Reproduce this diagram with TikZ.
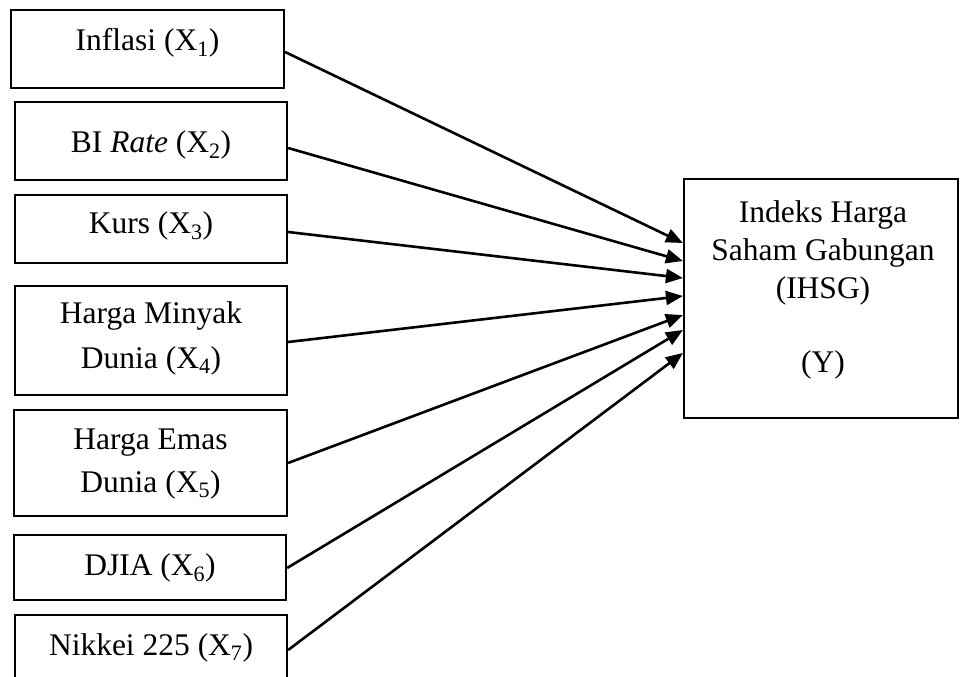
\documentclass[tikz,border=0pt]{standalone}
\usepackage{fontspec}
\setmainfont{Liberation Serif}
\usetikzlibrary{arrows.meta}
\begin{document}
\begin{tikzpicture}[x=1pt,y=-1pt,
  boxnode/.style={draw=black, line width=2.2pt, rectangle, inner sep=0pt, fill=none},
  lbl/.style={anchor=base, inner sep=0pt, font=\fontsize{31.5}{38}\selectfont},
  conn/.style={line width=2.6pt, -{Triangle[length=17pt,width=14pt]}}
]
\clip (0,0) rectangle (961,677);
\fill[white] (0,0) rectangle (961,677);
% left boxes
\node[boxnode, minimum width=273pt, minimum height=78pt] (b1) at (147.5,49) {};
\node[boxnode, minimum width=272pt, minimum height=78pt] (b2) at (151,141) {};
\node[boxnode, minimum width=272pt, minimum height=68pt] (b3) at (151,229) {};
\node[boxnode, minimum width=272pt, minimum height=109pt] (b4) at (151,340.5) {};
\node[boxnode, minimum width=273pt, minimum height=106pt] (b5) at (150.5,463) {};
\node[boxnode, minimum width=272pt, minimum height=65pt] (b6) at (150,567.5) {};
\node[boxnode, minimum width=272pt, minimum height=80pt] (b7) at (151,655) {};
% right box
\node[boxnode, minimum width=274pt, minimum height=239pt] (y) at (821,298.5) {};
% labels
\node[lbl] (t1) at (147.5,51) {Inflasi (X\textsubscript{1})};
\node[lbl] (t2) at (151,152) {BI \textit{Rate} (X\textsubscript{2})};
\node[lbl] (t3) at (151,233) {Kurs (X\textsubscript{3})};
\node[lbl] (t4a) at (151,323) {Harga Minyak};
\node[lbl] (t4b) at (151,368) {Dunia (X\textsubscript{4})};
\node[lbl] (t5a) at (150.5,449) {Harga Emas};
\node[lbl] (t5b) at (150.5,492) {Dunia (X\textsubscript{5})};
\node[lbl] (t6) at (150,575) {DJIA (X\textsubscript{6})};
\node[lbl] (t7) at (151,655) {Nikkei 225 (X\textsubscript{7})};
\node[lbl] (ya) at (823,222) {Indeks Harga};
\node[lbl] (yb) at (823,260) {Saham Gabungan};
\node[lbl] (yc) at (823,298) {(IHSG)};
\node[lbl] (yd) at (823,372) {(Y)};
% connectors
\draw[conn] ([yshift=-3pt]b1.east) -- ([yshift=55.5pt]y.west);
\draw[conn] ([yshift=-7pt]b2.east) -- ([yshift=37.5pt]y.west);
\draw[conn] ([yshift=-3pt]b3.east) -- ([yshift=20.5pt]y.west);
\draw[conn] ([yshift=-1.5pt]b4.east) -- ([yshift=2.5pt]y.west);
\draw[conn] (b5.east) -- ([yshift=-16.5pt]y.west);
\draw[conn] ([yshift=-0.5pt]b6.east) -- ([yshift=-31.5pt]y.west);
\draw[conn] ([yshift=5pt]b7.east) -- ([yshift=-54.5pt]y.west);
\end{tikzpicture}
\end{document}
